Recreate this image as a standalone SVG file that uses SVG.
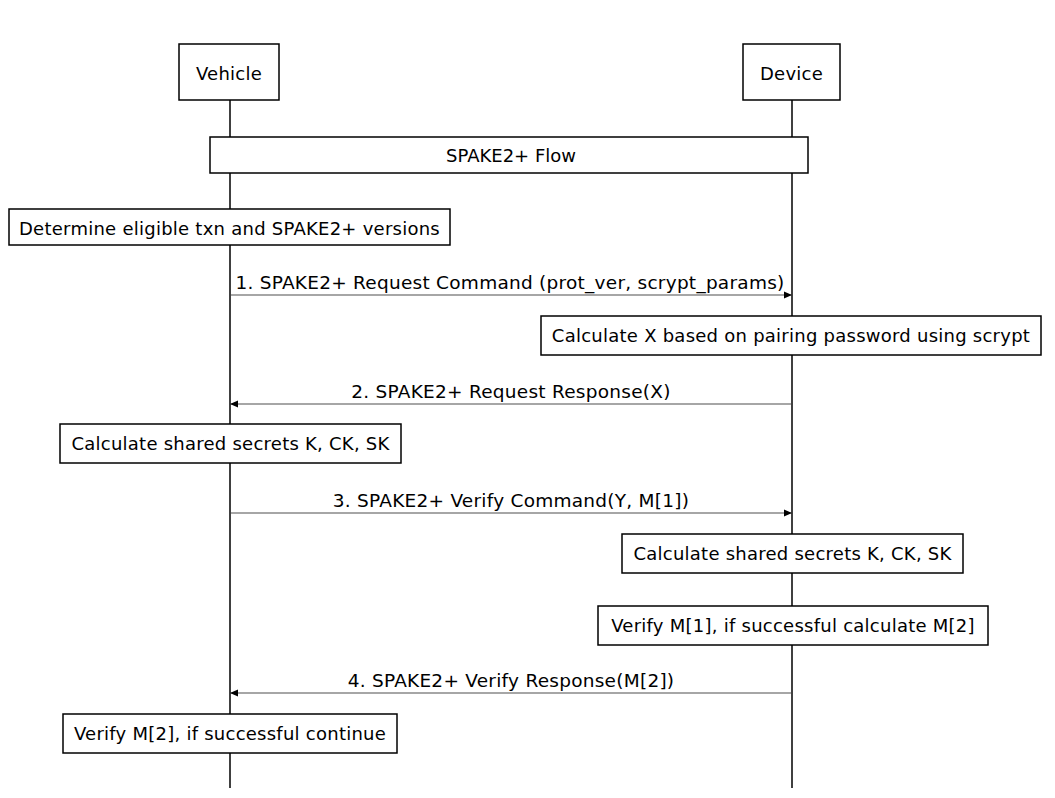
<svg xmlns="http://www.w3.org/2000/svg" width="1055" height="798" viewBox="0 0 1055 798">
<defs>
<marker id="ah" markerWidth="8" markerHeight="8" refX="7" refY="4" orient="auto" markerUnits="userSpaceOnUse">
<path d="M0,0.5 L8,4 L0,7.5 Z" fill="#000"/>
</marker>
<style>
.box{fill:#fff;stroke:#000;stroke-width:1.5}
.life{stroke:#000;stroke-width:1.5;fill:none}
.msg{stroke:#888;stroke-width:1.5;fill:none;marker-end:url(#ah)}
text{font-family:"DejaVu Sans",Verdana,sans-serif;font-size:18px;letter-spacing:0.25px;fill:#000;text-anchor:middle}
.lbl{font-size:18.5px;letter-spacing:0.25px}
</style>
</defs>
<rect width="1055" height="798" fill="#fff"/>
<g id="lifelines">
<line class="life" x1="230" y1="100" x2="230" y2="788"/>
<line class="life" x1="792" y1="100" x2="792" y2="788"/>
</g>
<g id="vehicle"><rect class="box" x="179" y="44" width="100" height="56"/><text x="229" y="80">Vehicle</text></g>
<g id="device"><rect class="box" x="743" y="44" width="97" height="56"/><text x="791.5" y="80">Device</text></g>
<g id="flow"><rect class="box" x="210" y="137" width="598" height="36"/><text x="511" y="162" style="letter-spacing:0">SPAKE2+ Flow</text></g>
<g id="determine"><rect class="box" x="9" y="209" width="441" height="36"/><text x="229.5" y="235">Determine eligible txn and SPAKE2+ versions</text></g>
<g id="calcx"><rect class="box" x="541" y="316" width="500" height="39"/><text x="791" y="342">Calculate X based on pairing password using scrypt</text></g>
<g id="vshared"><rect class="box" x="60" y="424" width="341" height="39"/><text x="230.5" y="450">Calculate shared secrets K, CK, SK</text></g>
<g id="dshared"><rect class="box" x="622" y="534" width="341" height="39"/><text x="792.5" y="560">Calculate shared secrets K, CK, SK</text></g>
<g id="verify1"><rect class="box" x="598" y="606" width="390" height="39"/><text x="793" y="632">Verify M[1], if successful calculate M[2]</text></g>
<g id="verify2"><rect class="box" x="63" y="714" width="334" height="39"/><text x="230" y="740">Verify M[2], if successful continue</text></g>
<g id="connectors">
<line class="msg" x1="231" y1="295" x2="791" y2="295"/>
<text class="lbl" x="510" y="289">1. SPAKE2+ Request Command (prot_ver, scrypt_params)</text>
<line class="msg" x1="791" y1="404" x2="231" y2="404"/>
<text class="lbl" x="511" y="398">2. SPAKE2+ Request Response(X)</text>
<line class="msg" x1="231" y1="513" x2="791" y2="513"/>
<text class="lbl" x="511" y="507">3. SPAKE2+ Verify Command(Y, M[1])</text>
<line class="msg" x1="791" y1="693" x2="231" y2="693"/>
<text class="lbl" x="511" y="687">4. SPAKE2+ Verify Response(M[2])</text>
</g>
</svg>
